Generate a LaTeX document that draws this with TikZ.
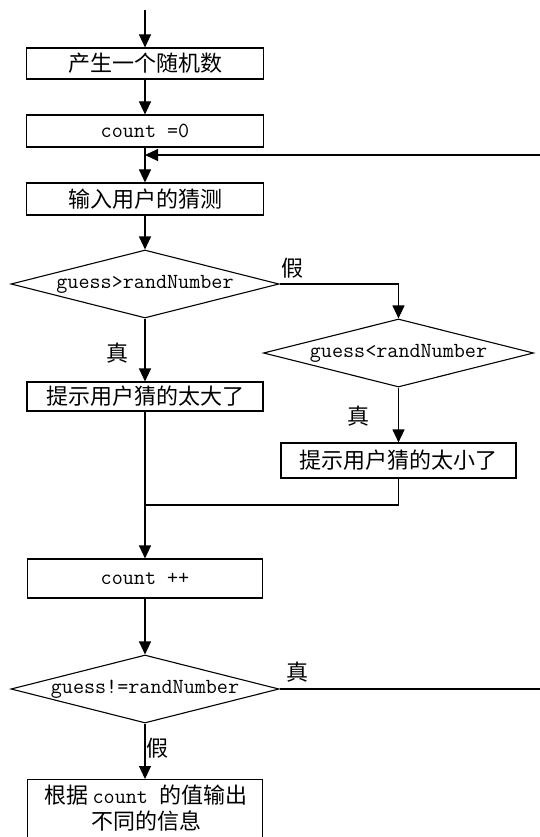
\documentclass[tikz,border=0pt]{standalone}
\usepackage{fontspec}
\setmainfont{Noto Sans CJK SC}
\setmonofont{Latin Modern Mono}
\usetikzlibrary{arrows.meta,shapes.geometric}
\newcommand\cjkf{\fontsize{22}{27}\selectfont}
\newcommand\mono[1]{{\fontsize{21.5}{27}\ttfamily #1}}
\tikzset{
  ln/.style={line width=1.1pt},
  arr/.style={ln,-{Triangle[length=13pt,width=12pt]}},
  box/.style={draw,ln,rectangle,inner sep=0pt,font=\cjkf},
  dia/.style={draw,ln,diamond,inner sep=0pt,minimum width=268pt,minimum height=68pt,aspect=3.94},
  lbl/.style={inner sep=0pt,font=\cjkf},
}
\begin{document}
\begin{tikzpicture}[x=1pt,y=-1pt]
\useasboundingbox (0,0) rectangle (540,837);
\clip (0,0) rectangle (540,837);
\fill[white] (0,0) rectangle (540,837);

\coordinate (start) at (145,10);
\node[box,minimum width=237pt,minimum height=31pt] (b1) at (145,63.5) {产生一个随机数};
\node[box,minimum width=237pt,minimum height=32pt] (b2) at (145,131) {\mono{count =0}};
\coordinate (join) at (145,155);
\node[box,minimum width=237pt,minimum height=32pt] (b3) at (145,199) {输入用户的猜测};
\node[dia] (d1) at (145,284) {\makebox[0pt]{\mono{guess>randNumber}}};
\coordinate (c1) at (398.5,284);
\node[dia,minimum width=270pt] (d2) at (398.5,353) {\makebox[0pt]{\mono{guess<randNumber}}};
\node[box,minimum width=236pt,minimum height=29pt] (b4) at (145,396.5) {提示用户猜的太大了};
\node[box,minimum width=235pt,minimum height=35pt] (b5) at (398.5,460.5) {提示用户猜的太小了};
\coordinate (m1) at (398.5,505);
\coordinate (m2) at (145,505);
\node[box,minimum width=235pt,minimum height=39pt] (b6) at (145,578.5) {\mono{count ++}};
\node[dia] (d3) at (145,689) {\makebox[0pt]{\mono{guess!=randNumber}}};
\coordinate (r1) at (546,689);
\coordinate (r2) at (546,155);
\node[box,minimum width=235pt,minimum height=76pt,anchor=north] (b7) at (145,779) {};
\node[lbl,align=center] (t7) at (146,808.5) {根据\,\mono{count }的值输出\\[-1pt]不同的信息};

% labels
\node[lbl] (l1) at (292,268) {假};
\node[lbl] (l2) at (117,353) {真};
\node[lbl] (l3) at (358,416) {真};
\node[lbl] (l4) at (297,672) {真};
\node[lbl] (l5) at (157,748) {假};

% connectors
\draw[arr] (start) -- (b1.north);
\draw[arr] (b1.south) -- (b2.north);
\draw[arr] (b2.south) -- (b3.north);
\draw[arr] (b3.south) -- (d1.north);
\draw[arr] (d1.east) -- (c1) -- (d2.north);
\draw[arr] (d1.south) -- (b4.north);
\draw[arr] (d2.south) -- (b5.north);
\draw[ln] (b5.south) -- (m1) -- (m2);
\draw[arr] (b4.south) -- (b6.north);
\draw[arr] (b6.south) -- (d3.north);
\draw[arr] (d3.south) -- (b7.north);
\draw[arr] (d3.east) -- (r1) -- (r2) -- (join);
\end{tikzpicture}
\end{document}
